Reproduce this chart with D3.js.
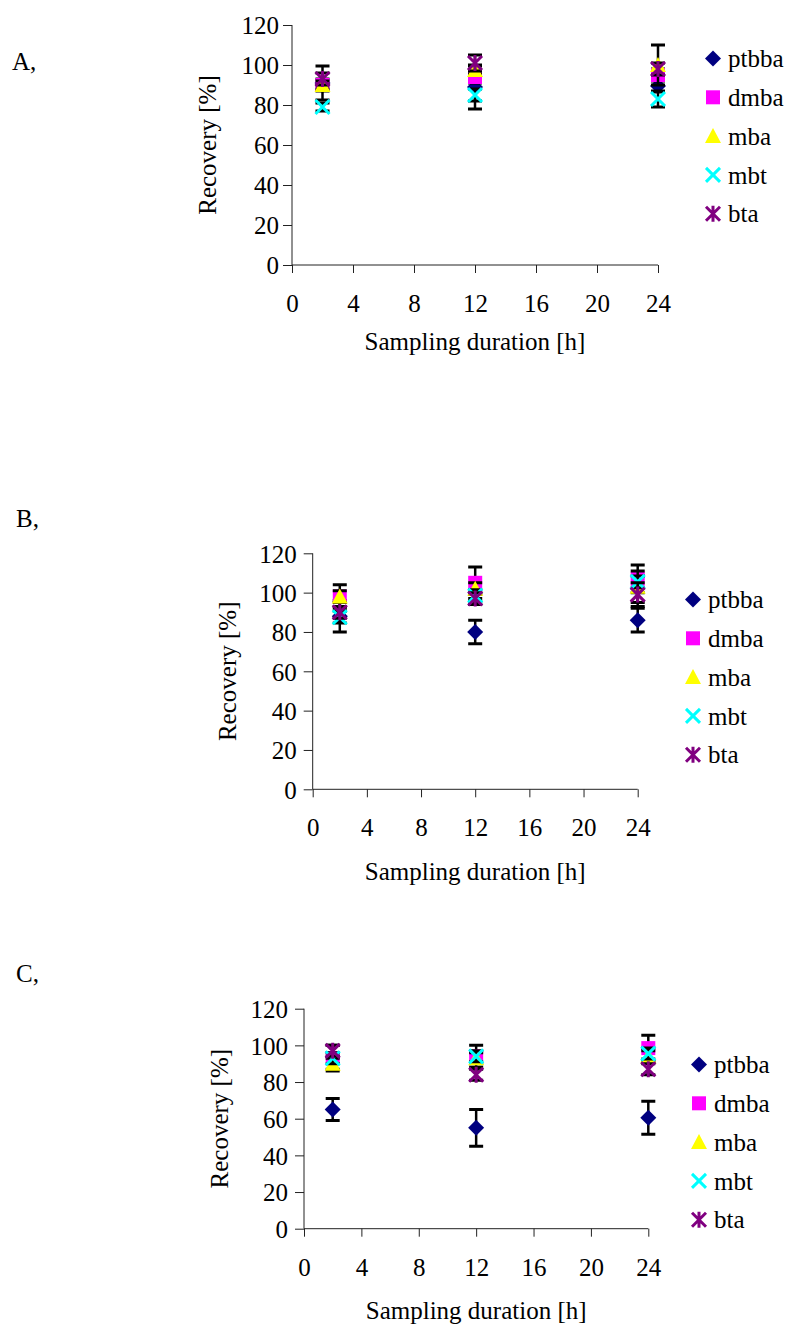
<!DOCTYPE html>
<html>
<head>
<meta charset="utf-8">
<script src="https://cdn.jsdelivr.net/npm/d3@7"></script>
<style>
  body { margin: 0; background: #fff; }
  svg text { font-family: "Liberation Serif", "Times New Roman", serif !important; fill: #000; }
</style>
</head>
<body>
<div id="chart"></div>
<script>
// ---- data ----
const hours = [2, 12, 24];
const seriesNames = ["ptbba", "dmba", "mba", "mbt", "bta"];
const xTickValues = [0, 4, 8, 12, 16, 20, 24];
const yTickValues = [0, 20, 40, 60, 80, 100, 120];

// rows follow seriesNames, columns follow hours
const recoveryA = [
  [91, 89, 89.5],
  [90, 94, 95],
  [90, 97.5, 100],
  [79, 85, 83],
  [93, 101, 98]
];
const errorA = [
  [8.5, 11, 3],
  [3, 3, 3],
  [2, 2, 10],
  [2, 3, 4],
  [3, 4, 3]
];

const recoveryB = [
  [88, 80, 86],
  [98, 105, 107],
  [98, 102, 103],
  [87.5, 98.5, 105.5],
  [90, 97, 99]
];
const errorB = [
  [8, 6, 6],
  [6, 8, 7],
  [3, 3, 8],
  [3, 3, 3],
  [3, 3, 6]
];

const recoveryC = [
  [65, 55, 60.5],
  [93, 94, 98.5],
  [90, 93, 94],
  [93, 94, 95.5],
  [97, 84, 87]
];
const errorC = [
  [6, 10, 9],
  [7, 6, 7],
  [3, 3, 3],
  [3, 3, 3],
  [3, 3, 3]
];

const colors = ["#000080", "#ff00ff", "#ffff00", "#00ffff", "#800080"];
const shapes = ["diamond", "square", "triangle", "cross", "asterisk"];

const width = 789, height = 1326;
const fontSize = 25;
const serif = "'Liberation Serif', 'Times New Roman', serif";

const svg = d3.select("#chart")
  .append("svg")
    .attr("width", width)
    .attr("height", height)
    .attr("viewBox", [0, 0, width, height])
    .style("font-family", serif);

// draws one marker shape at 0,0
function drawMarker(g, shape, color) {
  if (shape === "diamond") {
    g.append("path").attr("d", "M0,-8L8,0L0,8L-8,0Z").attr("fill", color);
  } else if (shape === "square") {
    g.append("rect").attr("x", -7).attr("y", -7).attr("width", 14).attr("height", 14).attr("fill", color);
  } else if (shape === "triangle") {
    g.append("path").attr("d", "M0,-8L8,7L-8,7Z").attr("fill", color);
  } else if (shape === "cross") {
    g.append("path").attr("d", "M-7,-7L7,7M7,-7L-7,7")
      .attr("stroke", color).attr("stroke-width", 3).attr("fill", "none");
  } else {
    g.append("path").attr("d", "M-7,-7L7,7M7,-7L-7,7M0,-8L0,8")
      .attr("stroke", color).attr("stroke-width", 3).attr("fill", "none");
  }
}

const panels = [
  { label: "A,", labelX: 12, labelY: 70, left: 292, right: 658, top: 25, bottom: 265,
    values: recoveryA, errors: errorA, yLabelGap: 13, xTitleDy: 85,
    legendX: 713, legendY: 58.5 },
  { label: "B,", labelX: 16, labelY: 527, left: 312.7, right: 637.7, top: 553.3, bottom: 789.3,
    values: recoveryB, errors: errorB, yLabelGap: 16, xTitleDy: 91,
    legendX: 693, legendY: 599.5 },
  { label: "C,", labelX: 16, labelY: 982, left: 304, right: 648.3, top: 1008.7, bottom: 1228.7,
    values: recoveryC, errors: errorC, yLabelGap: 16, xTitleDy: 90,
    legendX: 699, legendY: 1064.5 }
];

panels.forEach(p => {
  const g = svg.append("g");

  const xScale = d3.scaleLinear().domain([0, 24]).range([p.left, p.right]);
  const yScale = d3.scaleLinear().domain([0, 120]).range([p.bottom, p.top]);

  // panel letter
  g.append("text")
    .attr("x", p.labelX).attr("y", p.labelY)
    .attr("font-size", fontSize)
    .text(p.label);

  /* axes */
  const xAxis = d3.axisBottom(xScale).tickValues(xTickValues).tickSize(8).tickFormat(d3.format("d"));
  const xg = g.append("g")
    .attr("transform", `translate(0, ${p.bottom})`)
    .call(xAxis)
    .attr("font-family", null)
    .attr("font-size", null);
  xg.select(".domain").attr("d", `M${p.left},0H${p.right}`);
  xg.selectAll(".tick text")
    .style("font-size", fontSize + "px")
    .attr("y", 47).attr("dy", 0);

  const yAxis = d3.axisLeft(yScale).tickValues(yTickValues).tickSize(9).tickFormat(d3.format("d"));
  const yg = g.append("g")
    .attr("transform", `translate(${p.left}, 0)`)
    .call(yAxis)
    .attr("font-family", null)
    .attr("font-size", null);
  yg.select(".domain").attr("d", `M0,${p.top}V${p.bottom}`);
  yg.selectAll(".tick text")
    .style("font-size", fontSize + "px")
    .attr("x", -p.yLabelGap).attr("dy", "0.35em");

  [xg, yg].forEach(a => a.selectAll(".domain, .tick line").attr("stroke", "#222"));

  // axis titles
  g.append("text")
    .attr("x", (p.left + p.right) / 2).attr("y", p.bottom + p.xTitleDy)
    .attr("text-anchor", "middle")
    .attr("font-size", fontSize)
    .text("Sampling duration [h]");

  g.append("text")
    .attr("transform", `translate(${p.left - 85}, ${(p.top + p.bottom) / 2}) rotate(-90)`)
    .attr("text-anchor", "middle")
    .attr("dy", "0.35em")
    .attr("font-size", fontSize)
    .text("Recovery [%]");

  /* error bars + markers, series by series */
  seriesNames.forEach((name, i) => {
    const sg = g.append("g").attr("class", "series-" + name);
    const pts = hours.map((h, j) => ({ h, v: p.values[i][j], e: p.errors[i][j] }));

    sg.selectAll("path.err")
      .data(pts)
      .join("path")
        .attr("class", "err")
        .attr("d", d => {
          const x = xScale(d.h), y0 = yScale(d.v - d.e), y1 = yScale(d.v + d.e);
          return `M${x},${y0}V${y1}`;
        })
        .attr("stroke", "#000").attr("stroke-width", 2.5).attr("fill", "none");

    sg.selectAll("path.cap")
      .data(pts)
      .join("path")
        .attr("class", "cap")
        .attr("d", d => {
          const x = xScale(d.h), y0 = yScale(d.v - d.e), y1 = yScale(d.v + d.e);
          return `M${x - 7},${y0}H${x + 7}M${x - 7},${y1}H${x + 7}`;
        })
        .attr("stroke", "#000").attr("stroke-width", 3).attr("fill", "none");

    sg.selectAll("g.pt")
      .data(pts)
      .join("g")
        .attr("class", "pt")
        .attr("transform", d => `translate(${xScale(d.h)}, ${yScale(d.v)})`)
        .each(function () { drawMarker(d3.select(this), shapes[i], colors[i]); });
  });

  /* legend */
  const lg = g.append("g");
  seriesNames.forEach((name, i) => {
    const row = lg.append("g").attr("transform", `translate(${p.legendX}, ${p.legendY + i * 38.8})`);
    drawMarker(row, shapes[i], colors[i]);
    row.append("text")
      .attr("x", 15).attr("dy", "0.35em")
      .attr("font-size", fontSize)
      .text(name);
  });
});
</script>
</body>
</html>
